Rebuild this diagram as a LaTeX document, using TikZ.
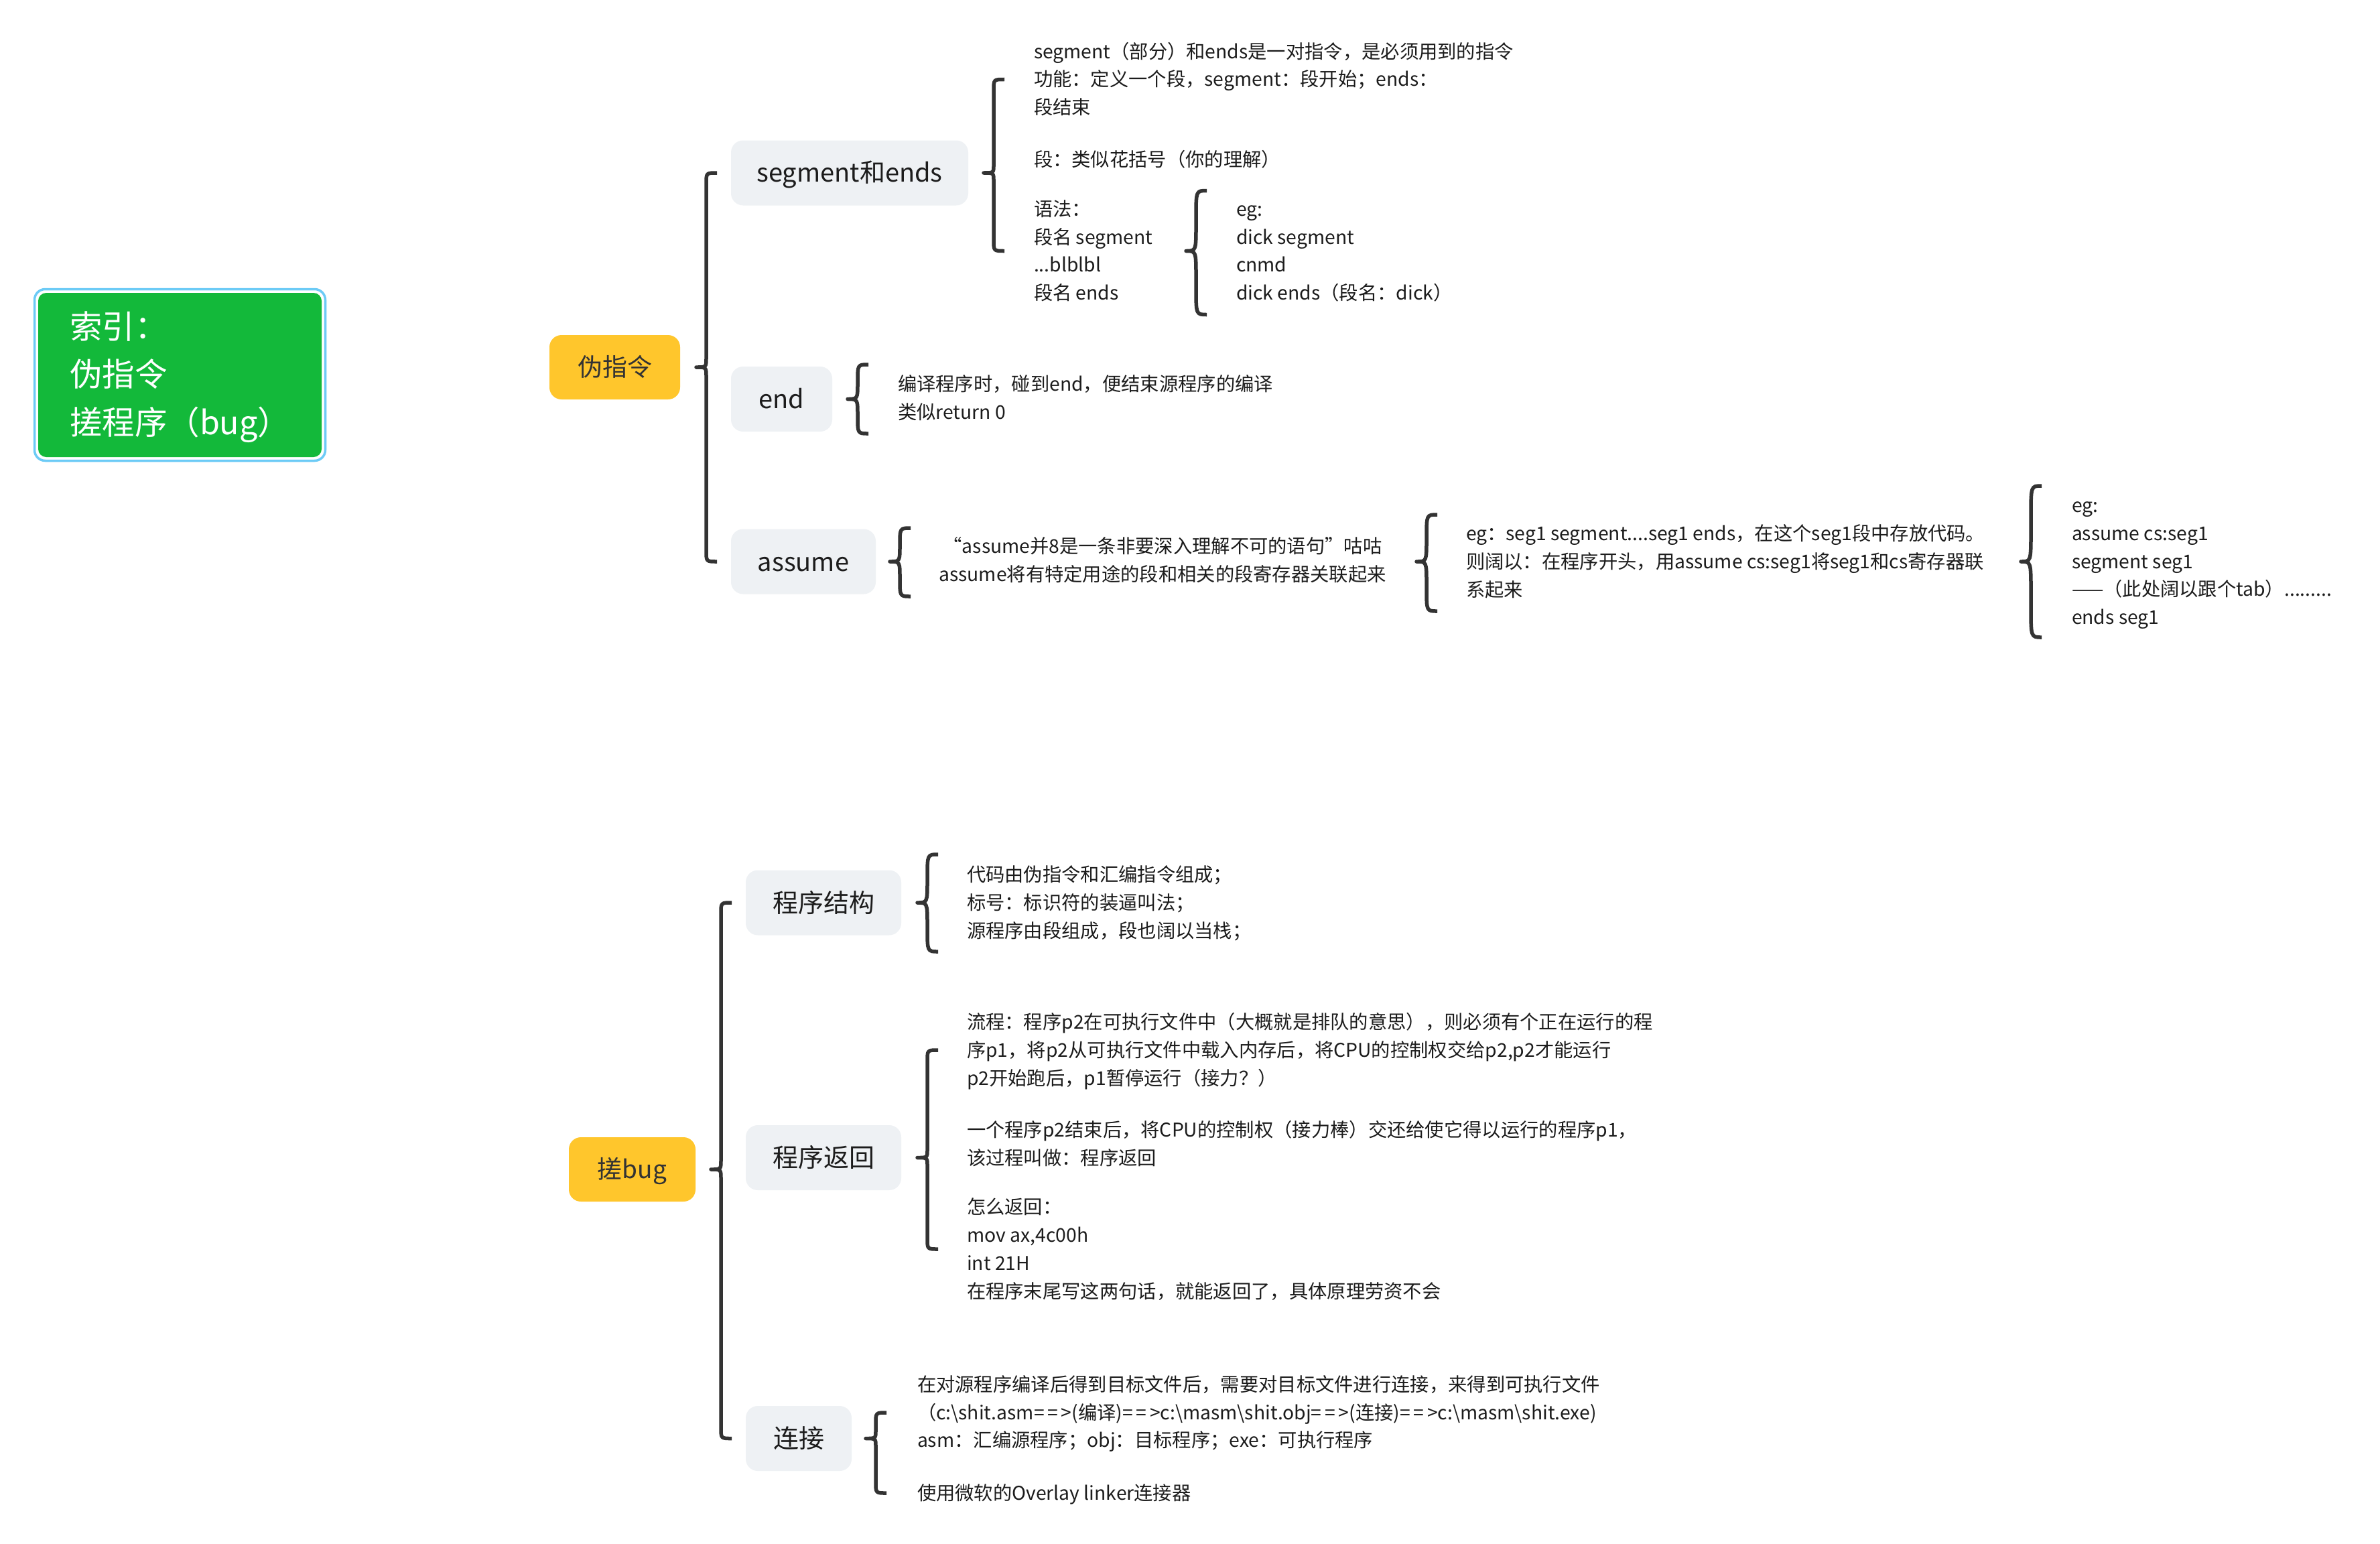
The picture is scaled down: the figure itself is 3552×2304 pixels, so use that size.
\documentclass[tikz,border=0pt]{standalone}
\usepackage{fontspec}
\setmainfont{Noto Sans CJK SC}
\usetikzlibrary{calc}

\definecolor{rootgreen}{HTML}{13B93A}
\definecolor{rootring}{HTML}{6CCBF6}
\definecolor{mainorange}{HTML}{FFC62C}
\definecolor{boxgray}{HTML}{EEF1F4}
\definecolor{linec}{HTML}{333333}
\definecolor{ink}{HTML}{1C1C1C}
\definecolor{mainink}{HTML}{333333}

% line strut: fixes every line box to the same height and depth
\newcommand\lst{\rule[-0.22em]{0pt}{1.18em}}

% curly brace: #1 tip, #2 upper end (y), #3 lower end (y), #4 end radius, #5 cusp radius
\newcommand\brc[5]{%
  \draw[bracel] let \p1=(#1), \p2=(#2), \p3=(#3) in
    (\x1+31pt,\y2) .. controls (\x1+15pt,\y2) .. (\x1+15pt,\y2-#4pt)
    -- (\x1+15pt,\y1+#5pt) .. controls (\x1+15pt,\y1) .. (\p1)
    .. controls (\x1+15pt,\y1) .. (\x1+15pt,\y1-#5pt)
    -- (\x1+15pt,\y3+#4pt) .. controls (\x1+15pt,\y3) .. (\x1+31pt,\y3);}

\begin{document}
\begin{tikzpicture}[x=1pt,y=-1pt,
  every node/.style={inner sep=0pt, outer sep=0pt},
  rootbox/.style={fill=rootgreen, rounded corners=12pt, minimum width=423pt,
    minimum height=245pt, text width=329pt, align=left, inner xsep=47pt,
    text=white, font=\fontsize{48.5}{71.5}\selectfont},
  ringline/.style={draw=rootring, line width=3.5pt, rounded corners=16pt},
  mainbox/.style={fill=mainorange, rounded corners=18pt, text=mainink,
    font=\fontsize{37}{44}\selectfont, minimum height=96pt},
  topicbox/.style={fill=boxgray, rounded corners=18pt, text=ink,
    font=\fontsize{38}{46}\selectfont, minimum height=97pt},
  txt/.style={anchor=west, align=left, text=ink,
    font=\fontsize{28.3}{41.7}\selectfont},
  ctxt/.style={align=center, text=ink, font=\fontsize{28.3}{41.7}\selectfont},
  bracel/.style={draw=linec, line width=5.5pt, line join=round}
]
\fill[white] (0,0) rectangle (3552,2304);
\useasboundingbox (0,0) rectangle (3552,2304);

% ---------- index box ----------
\node[rootbox] (root) at (268.5,559.5)
  {\noindent\lst 索引：\\\lst 伪指令\\\lst 搓程序（bug）};
\draw[ringline] ($(root.north west)+(-5.5,-5.5)$) rectangle ($(root.south east)+(5.5,5.5)$);

% ---------- main topics ----------
\node[mainbox, minimum width=195pt] (pz) at (917.5,548) {\lst 伪指令};
\node[mainbox, minimum width=189pt] (cb) at (943.5,1745) {\lst 搓bug};

% ---------- 伪指令 branch ----------
\node[topicbox, minimum width=354pt] (seg) at (1268,258) {\lst segment和ends};
\node[topicbox, minimum width=151pt] (endb) at (1166.5,595.5) {\lst end};
\node[topicbox, minimum width=216pt] (asm) at (1199,838) {\lst assume};

\node[txt] (segA1) at (1543,118.5) {\lst segment（部分）和ends是一对指令，是必须用到的指令\\
  \lst 功能：定义一个段，segment：段开始；ends：\\\lst 段结束};
\node[txt] (segA2) at (1543,238) {\lst 段：类似花括号（你的理解）};
\node[txt] (segA3) at (1543,374.5) {\lst 语法：\\\lst 段名 segment\\\lst ...blblbl\\\lst 段名 ends};
\node[txt] (egA) at (1845,374.5) {\lst eg:\\\lst dick segment\\\lst cnmd\\\lst dick ends（段名：dick）};

\node[txt] (endT) at (1340,594) {\lst 编译程序时，碰到end，便结束源程序的编译\\\lst 类似return 0};

\node[ctxt] (asmA) at (1735,836) {\lst “assume并8是一条非要深入理解不可的语句”咕咕\\
  \lst assume将有特定用途的段和相关的段寄存器关联起来};
\node[txt] (asmB) at (2188,838) {\lst eg：seg1 segment....seg1 ends，在这个seg1段中存放代码。\\
  \lst 则阔以：在程序开头，用assume cs:seg1将seg1和cs寄存器联\\\lst 系起来};
\node[txt] (asmC) at (3092,838) {\lst eg:\\\lst assume cs:seg1\\\lst segment seg1\\
  \lst ——（此处阔以跟个tab）.........\\\lst ends seg1};

% ---------- 搓bug branch ----------
\node[topicbox, minimum width=232pt] (jg) at (1229,1347) {\lst 程序结构};
\node[topicbox, minimum width=232pt] (fh) at (1229,1727.5) {\lst 程序返回};
\node[topicbox, minimum width=158pt] (lj) at (1192,2146.5) {\lst 连接};

\node[txt] (jgT) at (1443,1347) {\lst 代码由伪指令和汇编指令组成；\\\lst 标号：标识符的装逼叫法；\\
  \lst 源程序由段组成，段也阔以当栈；};

\node[txt] (fhA) at (1443,1567) {\lst 流程：程序p2在可执行文件中（大概就是排队的意思），则必须有个正在运行的程\\
  \lst 序p1，将p2从可执行文件中载入内存后，将CPU的控制权交给p2,p2才能运行\\
  \lst p2开始跑后，p1暂停运行（接力？）};
\node[txt] (fhB) at (1443,1707) {\lst 一个程序p2结束后，将CPU的控制权（接力棒）交还给使它得以运行的程序p1，\\
  \lst 该过程叫做：程序返回};
\node[txt] (fhC) at (1443,1864) {\lst 怎么返回：\\\lst mov ax,4c00h\\\lst int 21H\\
  \lst 在程序末尾写这两句话，就能返回了，具体原理劳资不会};

\node[txt] (linkA) at (1369,2108) {\lst 在对源程序编译后得到目标文件后，需要对目标文件进行连接，来得到可执行文件\\
  \lst （c:\textbackslash shit.asm=\,=\,>(编译)=\,=\,>c:\textbackslash masm\textbackslash shit.obj=\,=\,>(连接)=\,=\,>c:\textbackslash masm\textbackslash shit.exe)\\
  \lst asm：汇编源程序；obj：目标程序；exe：可执行程序};
\node[txt] (linkB) at (1369,2228) {\lst 使用微软的Overlay linker连接器};

% ---------- braces ----------
\brc{$(pz.east)+(24,0)$}{seg.west}{asm.west}{16}{14}
\brc{$(cb.east)+(23,0)$}{jg.west}{lj.west}{16}{14}

\brc{$(seg.east)+(23,0)$}{segA1.west}{segA3.west}{16}{12}
\brc{$(egA.west)+(-75,0)$}{$(egA.west)+(0,-90)$}{$(egA.west)+(0,95)$}{40}{40}
\brc{$(endb.east)+(23,0)$}{$(endT.west)+(0,-50)$}{$(endT.west)+(0,53)$}{25}{25}
\brc{$(asm.east)+(21,0)$}{$(asmA.center)+(0,-48)$}{$(asmA.center)+(0,54)$}{25}{25}
\brc{$(asmB.west)+(-74,0)$}{$(asmB.west)+(0,-70)$}{$(asmB.west)+(0,74)$}{34}{34}
\brc{$(asmC.west)+(-76,0)$}{$(asmC.west)+(0,-113)$}{$(asmC.west)+(0,113)$}{45}{45}

\brc{$(jg.east)+(24,0)$}{$(jgT.west)+(0,-72)$}{$(jgT.west)+(0,73)$}{34}{34}
\brc{$(fh.east)+(24,0)$}{fhA.west}{fhC.west}{16}{12}
\brc{$(lj.east)+(21,0)$}{linkA.west}{linkB.west}{16}{12}
\end{tikzpicture}
\end{document}
